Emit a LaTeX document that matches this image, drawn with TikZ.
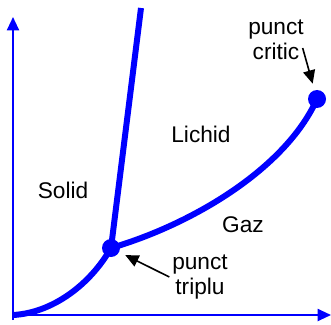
\documentclass[tikz,border=0pt]{standalone}
\usepackage{fontspec}
\setmainfont{Liberation Sans}
\usetikzlibrary{arrows.meta}

\begin{document}
\begin{tikzpicture}[x=0.75pt, y=-0.75pt,
  font=\fontsize{17}{19}\selectfont,
  axis/.style={blue, line width=1.5pt, -{Triangle[length=10pt, width=9pt]}},
  curve/.style={blue, line width=4.5pt},
  dot/.style={circle, fill=blue, inner sep=0pt, minimum size=13.5pt},
  ptr/.style={-{Triangle[length=10pt, width=9pt]}, line width=1.2pt, shorten >=5pt},
  lbl/.style={align=center, inner sep=2pt}]

  \useasboundingbox (0,0) rectangle (331,324);

  % axes
  \coordinate (O) at (13,315);
  \coordinate (ytop) at (13,17);
  \coordinate (xend) at (331,315);
  \draw[blue, line width=1.5pt] (13,320) -- (O);
  \draw[axis] (O) -- (ytop);
  \draw[axis] (12,315) -- (xend);

  % phase boundaries
  \node[dot] (triple) at (111,248) {};
  \node[dot] (critic) at (317,99) {};
  \coordinate (melt) at (141,8);
  \draw[curve] (O) .. controls (52,313) and (90,285) .. (triple.center);
  \draw[curve] (triple.center) -- (melt);
  \draw[curve] (triple.center) .. controls (190,225) and (285,170) .. (critic.center);

  % regions
  \node (solid) at (63,190) {Solid};
  \node (lichid) at (201,134) {Lichid};
  \node (gaz) at (243,225) {Gaz};

  % point labels
  \node[lbl] (lbltriplu) at (200,277) {punct\\triplu};
  \node[lbl] (lblcritic) at (276,40) {punct\\critic};
  \draw[ptr] (lbltriplu.west) -- (triple);
  \draw[ptr] ([shift={(-4,8)}]lblcritic.east) -- (critic);
\end{tikzpicture}
\end{document}
